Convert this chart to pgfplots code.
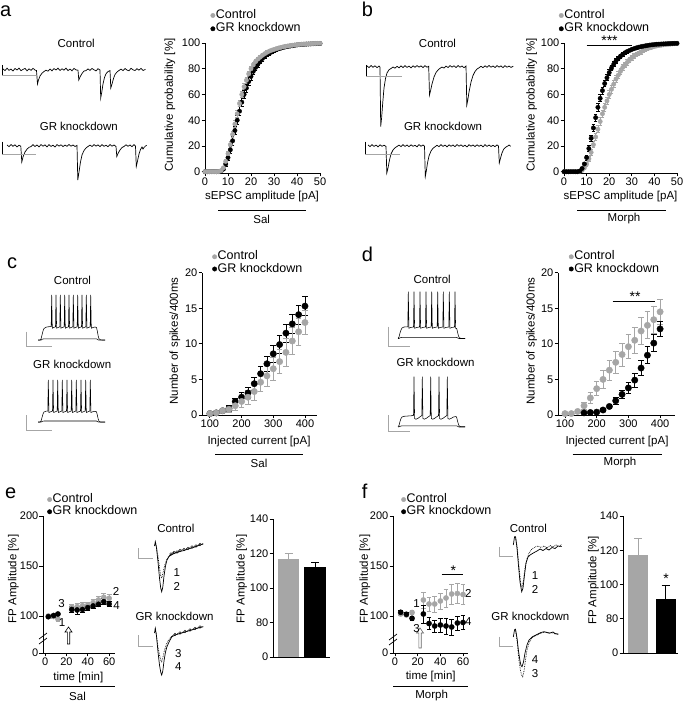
\documentclass[border=0pt]{standalone}
\usepackage{fontspec}
\setmainfont{Liberation Sans}
\usepackage{pgfplots}
\pgfplotsset{compat=1.18}
\usepackage{pgfplotstable}
\definecolor{gr}{RGB}{166,166,166}
\newcommand{\ftick}{\fontsize{11}{12}\selectfont}
\newcommand{\flab}{\fontsize{11.5}{13}\selectfont}
\newcommand{\fleg}{\fontsize{12.5}{14}\selectfont}
\newcommand{\fpan}{\fontsize{20}{22}\selectfont}
\pgfplotsset{
 prism/.style={scale only axis, axis x line=bottom, axis y line=left,
   axis line style={-, line width=0.9pt}, tick align=outside, major tick length=3.5pt,
   every tick/.style={black, line width=0.9pt}, tick label style={font=\ftick},
   /pgf/number format/assume math mode=true, clip=false,
   yticklabel style={inner xsep=1pt}, xticklabel style={inner ysep=1.5pt},
   legend style={draw=none, fill=none, anchor=north west, font=\fleg, inner sep=0pt,
     legend cell align=left, nodes={inner sep=0.6pt, text height=8.6pt, text depth=2.4pt}}},
 eb/.style={error bars/.cd, y dir=both, y explicit,
   error bar style={line width=0.8pt}, error mark options={rotate=90, mark size=#1, line width=0.8pt}},
 tr/.style={black, line width=0.7pt},
}
\newcommand{\legG}{\addlegendimage{legend image code/.code={\fill[gr] (0.08cm,0cm) circle (2.2pt);}}}
\newcommand{\legB}{\addlegendimage{legend image code/.code={\fill[black] (0.08cm,0cm) circle (2.2pt);}}}

\pgfplotstableread{
x y e
0 0 0
1 0 0
2 0 0
3 0 0
4 0 0
5 0 0
6 0.1 0.1
7 0.8 0.4
8 3 1
9 8 1.5
10 14 2
11 21 2.2
12 29 2.4
13 37 2.5
14 45 2.5
15 53 2.5
16 60 2.4
17 66 2.3
18 71 2.2
19 76 2
20 80 1.9
21 83 1.8
22 85.5 1.7
23 87.5 1.6
24 89 1.5
25 90.5 1.4
26 91.7 1.3
27 92.8 1.2
28 93.7 1.1
29 94.4 1
30 95 1
31 95.6 0.9
32 96.1 0.9
33 96.6 0.8
34 97 0.8
35 97.4 0.7
36 97.7 0.7
37 98 0.6
38 98.3 0.6
39 98.5 0.5
40 98.7 0.5
41 98.9 0.5
42 99.1 0.4
43 99.2 0.4
44 99.3 0.4
45 99.4 0.3
46 99.5 0.3
47 99.6 0.3
48 99.7 0.2
49 99.75 0.2
50 99.8 0.2
}\aCtrl
\pgfplotstableread{
x y e
0 0 0
1 0 0
2 0 0
3 0 0
4 0 0
5 0 0
6 0 0
7 0.5 0.3
8 2 1
9 6 2
10 11 2.5
11 17 3
12 24 3.2
13 32 3.4
14 40 3.5
15 47 3.5
16 54 3.4
17 60 3.3
18 65 3.2
19 70 3
20 74 2.9
21 78 2.7
22 81 2.5
23 83.5 2.3
24 86 2.1
25 88 2
26 89.5 1.8
27 91 1.7
28 92 1.5
29 93 1.4
30 94 1.3
31 94.8 1.2
32 95.5 1.1
33 96 1
34 96.5 0.9
35 97 0.9
36 97.3 0.8
37 97.6 0.7
38 97.9 0.7
39 98.2 0.6
40 98.5 0.6
41 98.7 0.5
42 98.9 0.5
43 99 0.4
44 99.1 0.4
45 99.2 0.4
46 99.3 0.3
47 99.4 0.3
48 99.5 0.3
49 99.55 0.2
50 99.6 0.2
}\aGR
\pgfplotstableread{
x y e
0 0 0
1 0 0
2 0 0
3 0 0
4 0 0
5 0 0
6 0 0
7 0.3 0.2
8 1 0.5
9 3 1
10 6 1.5
11 10 2
12 15 2.3
13 21 2.5
14 27 2.7
15 33 2.8
16 39 2.9
17 45 3
18 50 3
19 55 3
20 60 3
21 64 2.9
22 68 2.8
23 72 2.7
24 75 2.6
25 78 2.5
26 81 2.4
27 83 2.3
28 85 2.2
29 87 2.1
30 88.5 2
31 90 1.9
32 91 1.8
33 92 1.7
34 93 1.6
35 94 1.5
36 95 1.4
37 95.7 1.3
38 96.3 1.2
39 96.8 1.1
40 97.3 1
41 97.7 0.9
42 98 0.8
43 98.3 0.7
44 98.6 0.7
45 98.8 0.6
46 99 0.5
47 99.1 0.5
48 99.3 0.4
49 99.4 0.4
50 99.5 0.3
}\bCtrl
\pgfplotstableread{
x y e
0 0 0
1 0 0
2 0 0
3 0 0
4 0 0
5 0 0
6 0 0
7 0.5 0.3
8 2.5 1
9 6 1.5
10 11 2
11 18 2.3
12 26 2.5
13 34 2.7
14 42 2.8
15 50 2.8
16 57 2.7
17 63 2.6
18 68.5 2.5
19 73 2.4
20 77 2.3
21 80.5 2.1
22 83.5 2
23 86 1.8
24 88 1.7
25 89.8 1.6
26 91.2 1.4
27 92.4 1.3
28 93.4 1.2
29 94.2 1.1
30 95 1
31 95.6 0.9
32 96.2 0.8
33 96.7 0.8
34 97.1 0.7
35 97.5 0.6
36 97.8 0.6
37 98.1 0.5
38 98.4 0.5
39 98.6 0.4
40 98.8 0.4
41 99 0.4
42 99.1 0.3
43 99.2 0.3
44 99.3 0.3
45 99.4 0.3
46 99.5 0.2
47 99.6 0.2
48 99.65 0.2
49 99.7 0.2
50 99.75 0.2
}\bGR
\pgfplotstableread{
x y e
100 0.2 0.1
120 0.3 0.2
140 0.6 0.3
160 0.8 0.4
180 1.3 0.6
200 1.9 0.8
220 2.5 1.0
240 3.3 1.2
260 4.6 1.3
280 5.5 1.5
300 6.5 1.6
320 7.5 1.7
340 8.8 1.9
360 10.4 1.9
380 11.7 1.9
400 13.0 1.7
}\cCtrl
\pgfplotstableread{
x y e
100 0.2 0.1
120 0.3 0.2
140 0.6 0.3
160 0.9 0.4
180 1.9 0.5
200 2.5 0.7
220 3.1 0.8
240 4.4 0.9
260 5.8 1.0
280 7.2 1.1
300 8.6 1.2
320 9.9 1.3
340 11.5 1.3
360 12.8 1.3
380 14.1 1.3
400 15.3 1.3
}\cGR
\pgfplotstableread{
x y e
100 0.2 0.1
120 0.2 0.1
140 0.5 0.3
160 1.3 0.5
180 2.4 0.8
200 3.7 1.0
220 5.0 1.2
240 6.3 1.4
260 7.4 1.5
280 8.5 1.6
300 9.6 1.7
320 10.5 1.8
340 11.8 1.9
360 12.6 1.9
380 13.4 1.9
400 14.5 1.7
}\dCtrl
\pgfplotstableread{
x y e
160 0.3 0.1
180 0.35 0.1
200 0.4 0.15
220 0.7 0.2
240 1.2 0.3
260 2.0 0.5
280 2.9 0.6
300 3.8 0.8
320 4.9 1.0
340 6.6 1.1
360 8.4 1.2
380 10.1 1.2
400 12.1 1.0
}\dGR
\pgfplotstableread{
x y e
3 100 1.5
8 99.5 1.5
12 97 2
25 108.7 3
30 109.3 3
35 110.3 3
40 111 3
45 113.3 3.5
50 116 3.5
55 118.7 3.5
60 117.7 3.5
}\eCtrl
\pgfplotstableread{
x y e
3 99.3 1
8 100.5 1
12 102 1.5
25 106.5 3
30 106 4
35 106.5 3
40 108.3 2.5
45 110 2.5
50 111.7 2.5
55 114.3 3
60 112 2.5
}\eGR
\pgfplotstableread{
x y e
5 102 1.5
10 101 1.5
15 103.5 2
25 116 8
30 112 7
35 112 8
40 115 8
45 118 9
50 122 10
55 122.5 10
60 121.5 10
}\fCtrl
\pgfplotstableread{
x y e
5 103.7 1.5
10 101.7 1.5
15 97.7 2
25 102 9
30 92.5 6
35 90 6
40 91 7
45 90 8
50 89 8
55 93 7
60 93.5 7
}\fGR

\begin{document}
\begin{tikzpicture}
\useasboundingbox (0,0) rectangle (685pt,703pt);

\begin{axis}[prism, at={(205pt,530pt)}, anchor=south west, width=115pt, height=130pt,
  xmin=0, xmax=50, ymin=-1, ymax=100, xtick={0,10,...,50}, ytick={0,20,...,100},
  legend style={at={(0.046,1.26)}, row sep=1.1pt}]
\legG\addlegendentry{Control}
\legB\addlegendentry{GR knockdown}
\addplot[forget plot, only marks, mark=*, black, mark size=2.2pt, eb=1.8pt] table[x=x,y=y,y error=e]{\aGR};
\addplot[forget plot, only marks, mark=*, gr, mark size=2.2pt, eb=1.8pt] table[x=x,y=y,y error=e]{\aCtrl};
\end{axis}

\begin{axis}[prism, at={(564pt,530pt)}, anchor=south west, width=113pt, height=130pt,
  xmin=0, xmax=50, ymin=-1, ymax=100, xtick={0,10,...,50}, ytick={0,20,...,100},
  legend style={at={(-0.047,1.26)}, row sep=1.1pt}]
\legG\addlegendentry{Control}
\legB\addlegendentry{GR knockdown}
\addplot[forget plot, only marks, mark=*, gr, mark size=2.2pt, eb=1.8pt] table[x=x,y=y,y error=e]{\bCtrl};
\addplot[forget plot, only marks, mark=*, black, mark size=2.2pt, eb=1.8pt] table[x=x,y=y,y error=e]{\bGR};
\end{axis}

\begin{axis}[prism, at={(202pt,288pt)}, anchor=south west, width=115pt, height=142.3pt,
  xmin=75, xmax=438, ymin=0, ymax=20, xtick={100,200,300,400}, ytick={0,5,...,20},
  legend style={at={(0.087,1.156)}}]
\legG\addlegendentry{Control}
\legB\addlegendentry{GR knockdown}
\addplot[forget plot, only marks, mark=*, black, mark size=3.2pt, eb=2.8pt] table[x=x,y=y,y error=e]{\cGR};
\addplot[forget plot, only marks, mark=*, gr, mark size=3.2pt, eb=2.8pt] table[x=x,y=y,y error=e]{\cCtrl};
\end{axis}

\begin{axis}[prism, at={(558pt,288pt)}, anchor=south west, width=117pt, height=142.3pt,
  xmin=78, xmax=447, ymin=0, ymax=20, xtick={100,200,300,400}, ytick={0,5,...,20},
  legend style={at={(0.091,1.156)}}]
\legG\addlegendentry{Control}
\legB\addlegendentry{GR knockdown}
\addplot[forget plot, only marks, mark=*, gr, mark size=3.2pt, eb=2.8pt] table[x=x,y=y,y error=e]{\dCtrl};
\addplot[forget plot, only marks, mark=*, black, mark size=3.2pt, eb=2.8pt] table[x=x,y=y,y error=e]{\dGR};
\end{axis}

\begin{axis}[prism, at={(43pt,50pt)}, anchor=south west, width=72pt, height=137pt,
  xmin=-2, xmax=65.5, ymin=63, ymax=200, xtick={0,20,40,60}, ytick={63,100,150,200},
  yticklabels={0,100,150,200}, legend style={at={(0.056,1.166)}}]
\legG\addlegendentry{Control}
\legB\addlegendentry{GR knockdown}
\addplot[forget plot, only marks, mark=*, gr, mark size=2.6pt, eb=2.4pt] table[x=x,y=y,y error=e]{\eCtrl};
\addplot[forget plot, only marks, mark=*, black, mark size=2.6pt, eb=2.4pt] table[x=x,y=y,y error=e]{\eGR};
\end{axis}

\begin{axis}[prism, at={(393pt,50pt)}, anchor=south west, width=75pt, height=137pt,
  xmin=-1.8, xmax=64.4, ymin=63, ymax=200, xtick={0,20,40,60}, ytick={63,100,150,200},
  yticklabels={0,100,150,200}, legend style={at={(0.107,1.166)}}]
\legG\addlegendentry{Control}
\legB\addlegendentry{GR knockdown}
\addplot[forget plot, only marks, mark=*, gr, mark size=2.6pt, eb=2.4pt] table[x=x,y=y,y error=e]{\fCtrl};
\addplot[forget plot, only marks, mark=*, black, mark size=2.6pt, eb=2.4pt] table[x=x,y=y,y error=e]{\fGR};
\end{axis}

\begin{axis}[prism, clip=true, at={(273pt,46pt)}, anchor=south west, width=57pt, height=138pt,
  xmin=0.415, xmax=2.566, ymin=60, ymax=140, xtick=\empty, ytick={60,80,100,120,140},
  yticklabels={0,80,100,120,140}, ybar, bar width=21.5pt]
\addplot[fill=gr, draw=none, bar shift=0pt, error bars/.cd, y dir=plus, y explicit,
  error bar style={gr, line width=0.9pt}, error mark options={gr, rotate=90, mark size=4pt, line width=0.9pt}]
  coordinates {(1,116.8) +- (0,3)};
\addplot[fill=black, draw=none, bar shift=0pt, error bars/.cd, y dir=plus, y explicit,
  error bar style={black, line width=0.9pt}, error mark options={black, rotate=90, mark size=4pt, line width=0.9pt}]
  coordinates {(2,112.2) +- (0,2.8)};
\end{axis}

\begin{axis}[prism, clip=true, at={(623pt,50pt)}, anchor=south west, width=55pt, height=137pt,
  xmin=0.4545, xmax=2.4545, ymin=60, ymax=140, xtick=\empty, ytick={60,80,100,120,140},
  yticklabels={0,80,100,120,140}, ybar, bar width=20pt]
\addplot[fill=gr, draw=none, bar shift=0pt, error bars/.cd, y dir=plus, y explicit,
  error bar style={gr, line width=0.9pt}, error mark options={gr, rotate=90, mark size=4pt, line width=0.9pt}]
  coordinates {(1,117.4) +- (0,9.3)};
\addplot[fill=black, draw=none, bar shift=0pt, error bars/.cd, y dir=plus, y explicit,
  error bar style={black, line width=0.9pt}, error mark options={black, rotate=90, mark size=4pt, line width=0.9pt}]
  coordinates {(2,91.5) +- (0,8)};
\end{axis}

\begin{axis}[at={(0pt,0pt)}, anchor=south west, scale only axis, width=685pt, height=703pt,
  xmin=0, xmax=685, ymin=0, ymax=703, y dir=reverse, axis lines=none, clip=false]
\addplot[tr] coordinates {(3,69.0) (5,70.6) (7,68.2) (9,70.3) (11,69.1) (13,71.0) (15,68.5) (17,70.0) (19,68.1) (21,70.7) (23,69.4) (25,68.4) (27,70.8) (29,68.9) (31,70.3) (33,68.3) (35,70.1) (36.5,70.5) (37.5,84.0) (38.5,80.0) (40,76.0) (42,73.2) (44,71.5) (46,70.2) (48,71.2) (50,69.0) (52,70.8) (54,68.6) (56,70.0) (58,68.2) (60,70.5) (62,68.8) (64,70.2) (66,68.2) (68,70.6) (70,69.1) (72,70.8) (74,68.4) (76,69.9) (78,70.2) (78.8,80.0) (80,77.0) (82,73.5) (84,71.0) (86,70.6) (88,68.9) (90,70.4) (92,68.5) (94,69.8) (96,70.9) (98,68.7) (100,70.0) (100.7,98.0) (101.8,92.0) (103,84.0) (104.5,77.5) (106,73.8) (108,71.5) (110,70.6) (110.8,88.0) (112,84.0) (113.5,78.5) (115,74.5) (117,72.0) (119,70.5) (121,69.1) (123,70.6) (125,68.5) (127,70.1) (129,70.8) (131,68.3) (133,69.8) (135,70.5) (137,68.7) (139,70.2) (141,68.3) (143,70.5) (145.5,69.3)};
\addplot[tr] coordinates {(7,145.0) (9,146.6) (11,144.5) (13,146.3) (15,144.8) (17,146.9) (19,145.2) (20.8,146.2) (21.8,162.0) (23,157.0) (25,152.0) (27,149.2) (29,147.3) (31,146.6) (33,144.7) (35,146.5) (37,145.0) (39,146.9) (41,144.6) (43,146.2) (45,144.9) (47,146.8) (49,144.7) (51,146.4) (53,145.2) (55,147.0) (57,144.6) (59,146.1) (61,144.8) (63,146.6) (65,145.1) (67,146.3) (69,144.5) (71,146.2) (73,145.0) (75,146.5) (77,145.4) (77.8,180.0) (79,172.0) (80.5,162.0) (82,155.0) (84,150.5) (86,148.0) (88,146.5) (90,145.1) (92,146.5) (94,144.6) (96,146.1) (98,144.9) (100,146.6) (102,144.7) (104,146.3) (106,145.2) (108,146.7) (110,144.5) (112,146.2) (114,145.0) (116,146.5) (116.8,156.5) (118,153.5) (120,150.0) (122,147.5) (124,146.5) (126,144.8) (128,146.3) (130,145.0) (132,146.7) (134,144.7) (135.5,146.2) (136.3,166.5) (137.5,161.0) (139,154.0) (140.5,149.5) (142,147.0) (143,149.0) (144,147.5) (145.5,146.0) (146.7,145.3)};
\addplot[black, line width=0.8pt] coordinates {(2,65) (2,75)};
\addplot[gr, line width=0.8pt] coordinates {(2,75) (36,75)};
\addplot[black, line width=0.8pt] coordinates {(2,141.7) (2,154)};
\addplot[gr, line width=0.8pt] coordinates {(2,154) (36,154)};
\addplot[tr] coordinates {(367,66.0) (369,67.6) (371,65.5) (373,67.3) (375,65.8) (377,67.7) (379,66.0) (380,67.2) (380.7,126.5) (381.6,118.0) (382.8,102.0) (384,88.0) (385.5,78.5) (387,73.0) (389,69.8) (391,68.5) (393,67.0) (395,68.2) (397,66.3) (399,67.8) (401,65.9) (403,67.6) (405,65.7) (407,67.4) (409,66.1) (411,67.9) (413,65.8) (415,67.3) (417,65.6) (419,67.1) (421,65.9) (423,67.6) (425,65.7) (427,67.2) (428.7,66.3) (429.5,95.0) (430.5,91.0) (432,84.0) (434,77.0) (436,72.5) (438,70.0) (440,68.3) (442,67.1) (444,68.0) (446,66.1) (448,67.5) (450,65.6) (452,67.1) (454,65.8) (456,67.5) (458,65.5) (460,67.2) (462,66.0) (464,67.7) (466,66.0) (466.8,105.0) (467.8,100.0) (469,92.0) (471,82.0) (473,75.5) (475,71.5) (477,69.0) (479,67.8) (481,66.3) (483,67.7) (485,65.8) (487,67.3) (489,65.5) (491,67.2) (493,66.0) (495,67.5) (497,65.6) (499,67.1) (501,65.9) (503,67.7) (505,65.7) (507,67.2) (509,66.1) (511,67.4) (513.3,66.2)};
\addplot[tr] coordinates {(368,145.0) (370,146.6) (372,144.7) (374,146.4) (376,145.1) (378,146.8) (380,144.8) (382,146.3) (384,145.2) (386,146.4) (386.8,173.0) (388,168.0) (389.5,160.0) (391,154.0) (393,150.0) (395,147.8) (397,146.5) (399,145.1) (401,146.6) (403,144.7) (405,146.4) (407,145.0) (409,146.7) (411,144.8) (413,146.3) (415,145.3) (417,146.8) (419,144.6) (421,146.3) (423,145.0) (424.5,146.2) (425.3,176.5) (426.3,171.0) (427.5,163.0) (429,156.0) (431,151.0) (433,148.3) (435,146.8) (437,145.3) (439,146.6) (441,144.7) (443,146.4) (445,145.1) (447,146.8) (449,144.8) (451,146.3) (453,145.0) (455,146.7) (457,144.6) (459,146.2) (461,144.9) (463,146.5) (465,145.2) (467,146.9) (469,144.7) (471,146.2) (473,145.0) (475,146.6) (477,144.8) (479,146.3) (481,145.1) (483,146.8) (485,144.7) (487,146.4) (489,145.0) (491,146.5) (493,145.3) (495,146.7) (497,144.8) (498.5,146.2) (499.3,163.0) (500.3,159.0) (501.8,153.5) (503.5,149.5) (505.5,147.3) (507.5,146.2) (509,145.0) (510.7,146.3)};
\addplot[black, line width=0.8pt] coordinates {(366,65) (366,76)};
\addplot[gr, line width=0.8pt] coordinates {(366,76) (401.7,76)};
\addplot[black, line width=0.8pt] coordinates {(365,141.7) (365,154)};
\addplot[gr, line width=0.8pt] coordinates {(365,154) (400,154)};
% c traces
\addplot[tr, line width=0.55pt] coordinates {(38,340) (40,340) (41,339) (42,335) (43,331) (44,328.5) (46,327.2) (48,326.8) (51.2,326.6) (51.7,295) (52.3,328.2) (54,327.4) (55.5,326.8) (56,295) (56.6,328.2) (58.3,327.4) (59.8,326.8) (60.3,295) (60.9,328.2) (62.6,327.4) (64.2,326.8) (64.7,295) (65.3,328.2) (67,327.4) (68.5,326.8) (69,295) (69.6,328.2) (71.3,327.4) (72.8,326.8) (73.3,295) (73.9,328.2) (75.6,327.4) (77.2,326.8) (77.7,295) (78.3,328.2) (80,327.4) (81.5,326.8) (82,295) (82.6,328.2) (84.3,327.4) (85.8,326.8) (86.3,295) (86.9,328.2) (88.6,327.4) (90.2,326.8) (90.7,295) (91.3,328.2) (93,327.5) (95,327) (96.5,327.5) (97.3,331) (98.2,336) (99,338.8) (100.5,339.8) (102,340) (105,340)};
\addplot[tr, line width=0.55pt] coordinates {(38,340.2) (41,340.2) (42,339.3) (44,338.8) (96.5,338.8) (97.5,339.5) (99,340.2) (105,340.2)};
\addplot[tr, line width=0.55pt] coordinates {(38,422) (40,422) (41,421) (42,417.5) (43,414) (44,412) (46,411.2) (47.8,411) (48.3,380) (48.9,412.5) (50.6,411.8) (52.5,411) (53,380) (53.6,412.5) (55.3,411.8) (57.2,411) (57.7,380) (58.3,412.5) (60,411.8) (61.8,411) (62.3,380) (62.9,412.5) (64.6,411.8) (66.5,411) (67,380) (67.6,412.5) (69.3,411.8) (71.2,411) (71.7,380) (72.3,412.5) (74,411.8) (75.8,411) (76.3,380) (76.9,412.5) (78.6,411.8) (80.5,411) (81,380) (81.6,412.5) (83.3,411.8) (85.2,411) (85.7,380) (86.3,412.5) (88,411.8) (89.8,411) (90.3,380) (90.9,412.5) (92.6,411.8) (95,411.3) (96.5,411.8) (97.3,415) (98.2,419) (99,421.3) (100.5,422) (105,422)};
\addplot[tr, line width=0.55pt] coordinates {(38,422.2) (41,422.2) (42,421.4) (44,421) (96.5,421) (97.5,421.7) (99,422.2) (105,422.2)};
\addplot[gr, line width=0.8pt] coordinates {(26.7,331.7) (26.7,346.7) (51.7,346.7)};
\addplot[gr, line width=0.8pt] coordinates {(26.7,415) (26.7,430) (51.7,430)};
% d traces
\addplot[tr, line width=0.55pt] coordinates {(398,338.3) (399,337) (400,333) (401,330) (402,328) (404,327) (407.8,326.8) (408.3,291.7) (408.9,328.3) (410.5,327.5) (413.5,327) (414,291.7) (414.6,328.3) (416.5,327.5) (419.5,327) (420,291.7) (420.6,328.3) (422.5,327.5) (425.5,327) (426,291.7) (426.6,328.3) (428.5,327.5) (431.2,327) (431.7,291.7) (432.3,328.3) (434.2,327.5) (437.2,327) (437.7,291.7) (438.3,328.3) (440,327.5) (442.8,327) (443.3,291.7) (443.9,328.3) (445.8,327.5) (448.8,327) (449.3,291.7) (449.9,328.3) (451.8,327.5) (454.5,327) (455,291.7) (455.6,328.3) (456.7,328.5) (457.5,332) (458.5,336) (459.5,338) (461,338.3) (465,338.3)};
\addplot[tr, line width=0.55pt] coordinates {(398,338.5) (399,338.5) (400,337.8) (402,337.3) (456.5,337.3) (457.5,337.9) (459,338.5) (465,338.5)};
\addplot[tr, line width=0.55pt] coordinates {(398,426.7) (399,425.5) (400,421.5) (401,418.5) (402,417) (404,416.3) (408,416) (411,415.8) (413.5,415.4) (414,376.7) (414.6,418.5) (416,419.2) (418,418.3) (420,416.8) (421.8,415.6) (422.3,376.7) (422.9,418.5) (424.3,419.2) (426.3,418.3) (428.3,416.8) (430.2,415.6) (430.7,376.7) (431.3,418.5) (432.7,419.2) (434.7,418.3) (436.7,416.8) (438.5,415.6) (439,376.7) (439.6,418.5) (441,419.2) (443,418.3) (445,416.8) (446.8,415.6) (447.3,376.7) (447.9,418.5) (449.3,419.2) (451.3,418.3) (453.5,417) (456,416.5) (456.7,417.5) (457.5,421) (458.5,424.5) (459.5,426.3) (461,426.7) (465,426.7)};
\addplot[tr, line width=0.55pt] coordinates {(398,427) (399.5,426.6) (401,426) (403,425.8) (456.5,425.8) (457.5,426.3) (459,427) (465,427)};
\addplot[gr, line width=0.8pt] coordinates {(388.3,326.7) (388.3,346.7) (410,346.7)};
\addplot[gr, line width=0.8pt] coordinates {(388.3,415) (388.3,431.7) (410,431.7)};
% e traces
\addplot[tr] coordinates {(154.5,546) (155.3,541.7) (156.5,548) (158,562) (159.5,578) (160.7,588) (161.7,591.7) (162.8,587) (164,576) (165.5,566) (167,560) (169,556.5) (171,555) (174,553.5) (177,552.5) (180,551.5) (184,550.5) (188,549) (192,548) (196,546.5) (200,545) (203.3,544)};
\addplot[tr, densely dotted] coordinates {(155.3,541.7) (156.5,547) (158,556) (159.5,568) (160.7,576) (161.7,578.3) (163,573) (164.5,566) (166.5,560) (168.5,556.5) (171,554) (174,552.5) (177,552) (180,550.5) (184,549.5) (188,548.5) (192,547) (196,546) (200,544.5) (203.3,543.5)};
\addplot[only marks, mark=o, mark size=1.3pt, mark options={line width=0.4pt}, black] coordinates {(171,554) (174,552.5) (177,552) (180,550.5) (184,549.5) (188,548.5) (192,547) (196,546) (200,544.5)};
\addplot[tr] coordinates {(154.5,633) (155.3,628.3) (156.5,636) (158,652) (159.5,665) (160.7,672) (161.7,675) (162.8,671) (164,661) (165.5,652) (167,646.5) (169,642) (171.7,637) (175,635) (180,633.5) (185,632) (190,630.5) (195,629) (200,627.5) (203.3,626.7)};
\addplot[tr, densely dotted] coordinates {(155.3,628.3) (156.5,636) (158,647) (159.5,655) (160.7,660) (161.7,661.7) (163,657) (164.5,650) (166.5,644) (168.5,640) (171.7,636) (175,634.5) (180,633) (185,631.5) (190,630) (195,628.5) (200,627) (203.3,626.5)};
\addplot[only marks, mark=o, mark size=1.3pt, mark options={line width=0.4pt}, black] coordinates {(175,634.5) (180,633) (185,631.5) (190,630) (195,628.5) (200,627)};
\addplot[gr, line width=0.8pt] coordinates {(138.3,548.3) (138.3,558.3) (153.3,558.3)};
\addplot[gr, line width=0.8pt] coordinates {(138.3,635) (138.3,646) (153.3,646)};
% f traces
\addplot[tr] coordinates {(513.3,545) (514.5,537) (515.5,536.7) (517,548) (518.5,566) (520,582) (521.7,591.7) (523,588) (524.5,575) (526,563) (528,557) (530,555) (533.3,553) (537,551) (540,549) (543,550.5) (546,548.5) (549,550) (552,547.5) (555,548.5) (558,546) (561.7,546.5)};
\addplot[tr, densely dotted] coordinates {(514.5,537) (515.5,536.7) (517,546) (518.5,561) (520,577) (521,585) (522,586.7) (523.5,580) (525,568) (527,559) (529,553) (532,549) (535,547) (538,546) (541,547.5) (544,546) (547,548) (550,545.5) (553,547) (556,545) (559,546.5) (561.7,544.5)};
\addplot[tr] coordinates {(513.3,637) (514.5,630) (515.5,629.3) (517,638) (518.5,651) (520,661) (521,665.5) (522,666.7) (523.5,662) (525,653) (527,645) (529,640) (532,637) (535,635.5) (538,634) (541,632.5) (544,631.7) (547,632.5) (550,633) (553,632) (555,633.5) (558.3,634)};
\addplot[tr, densely dotted] coordinates {(514.5,630) (515.5,629.3) (517,640) (518.5,656) (520,668) (521.5,675) (522.7,676.7) (524,671) (525.5,660) (527,650) (529,643) (531.5,638.5) (534,636.5) (537,635) (540,633.5) (543,632.5) (546,632) (549,633.5) (552,632.5) (555,634) (558.3,634.5)};
\addplot[gr, line width=0.8pt] coordinates {(499.3,546.7) (499.3,556.7) (513.3,556.7)};
\addplot[gr, line width=0.8pt] coordinates {(499.3,636.7) (499.3,646.7) (513.3,646.7)};
% lines
\addplot[black, line width=0.9pt] coordinates {(586.6,45.7) (631.8,45.7)};
\addplot[black, line width=0.9pt] coordinates {(612.5,301.7) (655.2,301.7)};
\addplot[black, line width=0.9pt] coordinates {(441.7,574.3) (462.7,574.3)};
\addplot[black, line width=0.9pt] coordinates {(218,210.7) (306,210.7)};
\addplot[black, line width=0.9pt] coordinates {(577,210) (666,210)};
\addplot[black, line width=0.9pt] coordinates {(215,454.3) (303,454.3)};
\addplot[black, line width=0.9pt] coordinates {(572.7,454) (661.7,454)};
\addplot[black, line width=0.9pt] coordinates {(40,686.5) (115,686.5)};
\addplot[black, line width=0.9pt] coordinates {(393,686.2) (467.7,686.2)};
\addplot[black, line width=0.7pt] coordinates {(39,639) (47,633)};
\addplot[black, line width=0.7pt] coordinates {(39,644) (47,638)};
\addplot[black, line width=0.7pt] coordinates {(389,640) (397,634)};
\addplot[black, line width=0.7pt] coordinates {(389,645) (397,639)};
\addplot[draw=black, fill=white, line width=0.6pt] coordinates {(68.5,627) (72,632) (69.7,632) (69.7,644) (67.3,644) (67.3,632) (65,632)} -- cycle;
\addplot[draw=gray!80!black, fill=white, line width=0.6pt] coordinates {(420,628) (423.5,633) (421.2,633) (421.2,648) (418.8,648) (418.8,633) (416.5,633)} -- cycle;
\begin{scope}[every node/.style={inner sep=0pt, font=\flab}]
\node at (76.2,43.3) {Control};
\node at (78.8,126.7) {GR knockdown};
\node at (437.5,43.3) {Control};
\node at (443,126) {GR knockdown};
\node at (72.5,280) {Control};
\node at (72.2,364) {GR knockdown};
\node at (432.2,279.3) {Control};
\node at (435.5,362.7) {GR knockdown};
\node at (175.8,528.3) {Control};
\node at (174.5,616.7) {GR knockdown};
\node at (528.3,528.3) {Control};
\node at (530.3,616.7) {GR knockdown};
\node at (262,196.5) {sEPSC amplitude [pA]};
\node at (620.5,196.5) {sEPSC amplitude [pA]};
\node at (259,441.5) {Injected current [pA]};
\node at (617,441.5) {Injected current [pA]};
\node at (78.3,677.2) {time [min]};
\node at (430.7,676.8) {time [min]};
\node at (261.7,219.5) {Sal};
\node at (624,218.5) {Morph};
\node at (259,463) {Sal};
\node at (620,463) {Morph};
\node at (77.5,696) {Sal};
\node at (431.7,695.5) {Morph};
\node[rotate=90] at (170,105) {Cumulative probability [\%]};
\node[rotate=90] at (531.7,105) {Cumulative probability [\%]};
\node[rotate=90] at (175,341) {Number of spikes/400ms};
\node[rotate=90] at (531.7,341) {Number of spikes/400ms};
\node[rotate=90] at (13.3,579) {FP Amplitude [\%]};
\node[rotate=90] at (241.7,579) {FP Amplitude [\%]};
\node[rotate=90] at (365,579) {FP Amplitude [\%]};
\node[rotate=90] at (593.3,580.5) {FP Amplitude [\%]};
\node at (176.7,572.7) {1};
\node at (176.7,586) {2};
\node at (178.3,653.3) {3};
\node at (178.3,666.7) {4};
\node at (61.5,603.5) {3};
\node at (62,622.5) {1};
\node at (116,591.7) {2};
\node at (116.5,606) {4};
\node at (535,576) {1};
\node at (535,589.3) {2};
\node at (535,660) {4};
\node at (535,673.3) {3};
\node at (416.5,604) {1};
\node at (416.5,628.5) {3};
\node at (468.3,593) {2};
\node at (468.3,622) {4};
\end{scope}
\begin{scope}[every node/.style={inner sep=0pt, font=\fontsize{14}{16}\selectfont, anchor=base}]
\node at (609.5,45.2) {***};
\node at (635,301.8) {**};
\node at (453.3,575.8) {*};
\node at (666,583.5) {*};
\end{scope}
\begin{scope}[every node/.style={inner sep=0pt, font=\fpan, anchor=base west}]
\node at (0,16.7) {a};
\node at (361.7,16.7) {b};
\node at (7,268.3) {c};
\node at (361.7,261.7) {d};
\node at (5,498.3) {e};
\node at (361.7,498.3) {f};
\end{scope}
\end{axis}
\end{tikzpicture}
\end{document}
